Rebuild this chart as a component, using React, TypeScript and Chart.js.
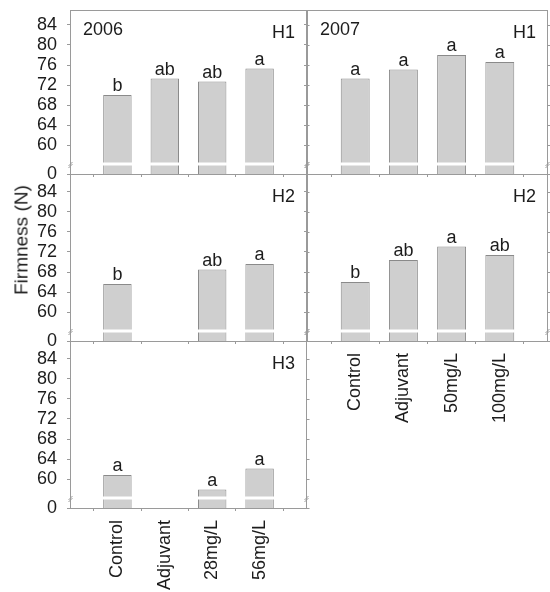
import React, { useEffect, useRef } from "react";
import { Chart, registerables } from "chart.js";

Chart.register(...registerables);

// Treatments per season
const TREATMENTS_2006 = ["Control", "Adjuvant", "28mg/L", "56mg/L"];
const TREATMENTS_2007 = ["Control", "Adjuvant", "50mg/L", "100mg/L"];

// Upper y-axis ticks; the axis is broken below 60 and its floor is labelled 0
const Y_TICKS = [60, 64, 68, 72, 76, 80, 84];
const FLOOR_LABEL = "0";

// Fruit firmness (N) per treatment; null = treatment not sampled at that harvest
const FIRM_2006_H1 = [70.0, 73.3, 72.7, 75.3];
const FIRM_2006_H2 = [65.6, null, 68.5, 69.6];
const FIRM_2006_H3 = [60.8, null, 57.9, 62.1];
const FIRM_2007_H1 = [73.3, 75.1, 78.0, 76.6];
const FIRM_2007_H2 = [66.0, 70.4, 73.1, 71.4];

// Mean separation letters
const SIG_2006_H1 = ["b", "ab", "ab", "a"];
const SIG_2006_H2 = ["b", "", "ab", "a"];
const SIG_2006_H3 = ["a", "", "a", "a"];
const SIG_2007_H1 = ["a", "a", "a", "a"];
const SIG_2007_H2 = ["b", "ab", "a", "ab"];

// Broken axis: the floor of each panel stands for 0, the break sits just above it
const Y_FLOOR = 54.2;
const Y_BREAK = 56.2;

const FONT = '"Liberation Sans", Arial, Helvetica, sans-serif';
const TEXT = "#1c1c1c";
const AXIS = "#9a9a9a";
const BAR_FILL = "#cfcfcf";
const BAR_EDGE = "#8a8a8a";

type PanelProps = {
  x: number;
  y: number;
  w: number;
  h: number;
  labels: string[];
  values: (number | null)[];
  letters: string[];
  harvest: string;
  year?: string;
  yLabels: boolean;
  xLabels: boolean;
};

function zeroPadding(s: any) {
  s.paddingTop = 0;
  s.paddingBottom = 0;
  s.paddingLeft = 0;
  s.paddingRight = 0;
}

function Panel(p: PanelProps) {
  const ref = useRef<HTMLCanvasElement | null>(null);
  const L = p.yLabels ? 70 : 10;
  const R = 6;
  const T = 6;
  const B = p.xLabels ? 592 - (p.y + p.h) : 6;
  const cw = p.w + L + R;
  const ch = p.h + T + B;
  const yMax = Y_FLOOR + p.h / 5;

  useEffect(() => {
    if (!ref.current) return;
    const font = { family: FONT, size: 18 };

    const decor = {
      id: "panelDecor",
      afterDatasetsDraw(chart: any) {
        const ctx = chart.ctx;
        const ys = chart.scales.y;
        const meta = chart.getDatasetMeta(0);
        const yb = ys.getPixelForValue(Y_BREAK);
        ctx.save();
        // white gap marking the axis break on every bar
        meta.data.forEach((bar: any, i: number) => {
          const v = chart.data.datasets[0].data[i];
          if (v == null) return;
          const half = bar.width / 2;
          ctx.fillStyle = "#ffffff";
          ctx.fillRect(bar.x - half - 0.5, yb - 1.5, bar.width + 1, 3);
        });
        // significance letters above the bars
        ctx.fillStyle = TEXT;
        ctx.font = `18px ${FONT}`;
        ctx.textAlign = "center";
        ctx.textBaseline = "alphabetic";
        meta.data.forEach((bar: any, i: number) => {
          const txt = p.letters[i - 1];
          const v = chart.data.datasets[0].data[i];
          if (v == null || !txt) return;
          ctx.fillText(txt, bar.x, bar.y - 4);
        });
        ctx.restore();
      },
      afterDraw(chart: any) {
        const ctx = chart.ctx;
        const a = chart.chartArea;
        const ys = chart.scales.y;
        ctx.save();
        ctx.strokeStyle = AXIS;
        ctx.lineWidth = 1;
        ctx.strokeRect(a.left + 0.5, a.top + 0.5, a.right - a.left - 1, a.bottom - a.top);
        // mirrored ticks on the right edge
        ys.ticks.forEach((t: any) => {
          const py = Math.round(ys.getPixelForValue(t.value)) + 0.5;
          ctx.beginPath();
          ctx.moveTo(a.right - 0.5, py);
          ctx.lineTo(a.right + 2.5, py);
          ctx.stroke();
        });
        // break marks on both vertical edges
        const yb = ys.getPixelForValue(Y_BREAK);
        [a.left + 0.5, a.right - 0.5].forEach((ex) => {
          ctx.beginPath();
          ctx.moveTo(ex - 2, yb + 2);
          ctx.lineTo(ex + 2, yb - 2);
          ctx.moveTo(ex - 2, yb + 4);
          ctx.lineTo(ex + 2, yb);
          ctx.stroke();
        });
        // panel captions
        ctx.fillStyle = TEXT;
        ctx.font = `18px ${FONT}`;
        ctx.textBaseline = "alphabetic";
        if (p.year) {
          ctx.textAlign = "left";
          ctx.fillText(p.year, a.left + 13, a.top + 25);
        }
        ctx.textAlign = "right";
        ctx.fillText(p.harvest, a.right - 12, a.top + 28);
        ctx.restore();
      },
    };

    const chart = new Chart(ref.current, {
      type: "bar",
      data: {
        labels: ["", ...p.labels, ""],
        datasets: [
          {
            data: [null, ...p.values, null],
            backgroundColor: BAR_FILL,
            borderColor: BAR_EDGE,
            borderWidth: 1,
            barPercentage: 0.6,
            categoryPercentage: 1,
          },
        ],
      },
      options: {
        responsive: false,
        animation: false,
        devicePixelRatio: 1,
        layout: { autoPadding: false, padding: { left: 0, right: R, top: T, bottom: 0 } },
        plugins: { legend: { display: false }, tooltip: { enabled: false } },
        scales: {
          x: {
            type: "category",
            offset: false,
            grid: { display: true, drawOnChartArea: false, drawTicks: true, tickLength: 3, color: AXIS },
            border: { color: AXIS, width: 1 },
            ticks: {
              display: p.xLabels,
              autoSkip: false,
              minRotation: 90,
              maxRotation: 90,
              padding: 9,
              color: TEXT,
              font,
            },
            afterFit: (s: any) => {
              s.height = B;
              zeroPadding(s);
            },
          },
          y: {
            type: "linear",
            min: Y_FLOOR,
            max: yMax,
            afterBuildTicks: (s: any) => {
              s.ticks = [Y_FLOOR, ...Y_TICKS].map((v) => ({ value: v }));
            },
            grid: { display: true, drawOnChartArea: false, drawTicks: true, tickLength: 3, color: AXIS },
            border: { color: AXIS, width: 1 },
            ticks: {
              display: p.yLabels,
              autoSkip: false,
              padding: 10,
              color: TEXT,
              font,
              callback: (v: any) => (v === Y_FLOOR ? FLOOR_LABEL : String(v)),
            },
            afterFit: (s: any) => {
              s.width = L;
              zeroPadding(s);
            },
          },
        },
      } as any,
      plugins: [decor],
    });
    return () => chart.destroy();
  }, []);

  return (
    <canvas
      ref={ref}
      width={cw}
      height={ch}
      style={{ position: "absolute", left: p.x - L, top: p.y - T, width: cw, height: ch }}
    />
  );
}

export default function App() {
  return (
    <div
      style={{
        position: "absolute",
        left: 0,
        top: 0,
        width: 550,
        height: 592,
        background: "#ffffff",
        overflow: "hidden",
      }}
    >
      <Panel x={70} y={10} w={237} h={164} labels={TREATMENTS_2006} values={FIRM_2006_H1} letters={SIG_2006_H1} harvest="H1" year="2006" yLabels xLabels={false} />
      <Panel x={70} y={174} w={237} h={167} labels={TREATMENTS_2006} values={FIRM_2006_H2} letters={SIG_2006_H2} harvest="H2" yLabels xLabels={false} />
      <Panel x={70} y={341} w={237} h={167} labels={TREATMENTS_2006} values={FIRM_2006_H3} letters={SIG_2006_H3} harvest="H3" yLabels xLabels />
      <Panel x={307} y={10} w={241} h={164} labels={TREATMENTS_2007} values={FIRM_2007_H1} letters={SIG_2007_H1} harvest="H1" year="2007" yLabels={false} xLabels={false} />
      <Panel x={307} y={174} w={241} h={167} labels={TREATMENTS_2007} values={FIRM_2007_H2} letters={SIG_2007_H2} harvest="H2" yLabels={false} xLabels />
      <div
        style={{
          position: "absolute",
          left: 20.5,
          top: 240,
          transform: "translate(-50%, -50%) rotate(-90deg)",
          whiteSpace: "nowrap",
          fontFamily: FONT,
          fontSize: 19,
          color: TEXT,
          lineHeight: 1,
        }}
      >
        Firmness (N)
      </div>
    </div>
  );
}
